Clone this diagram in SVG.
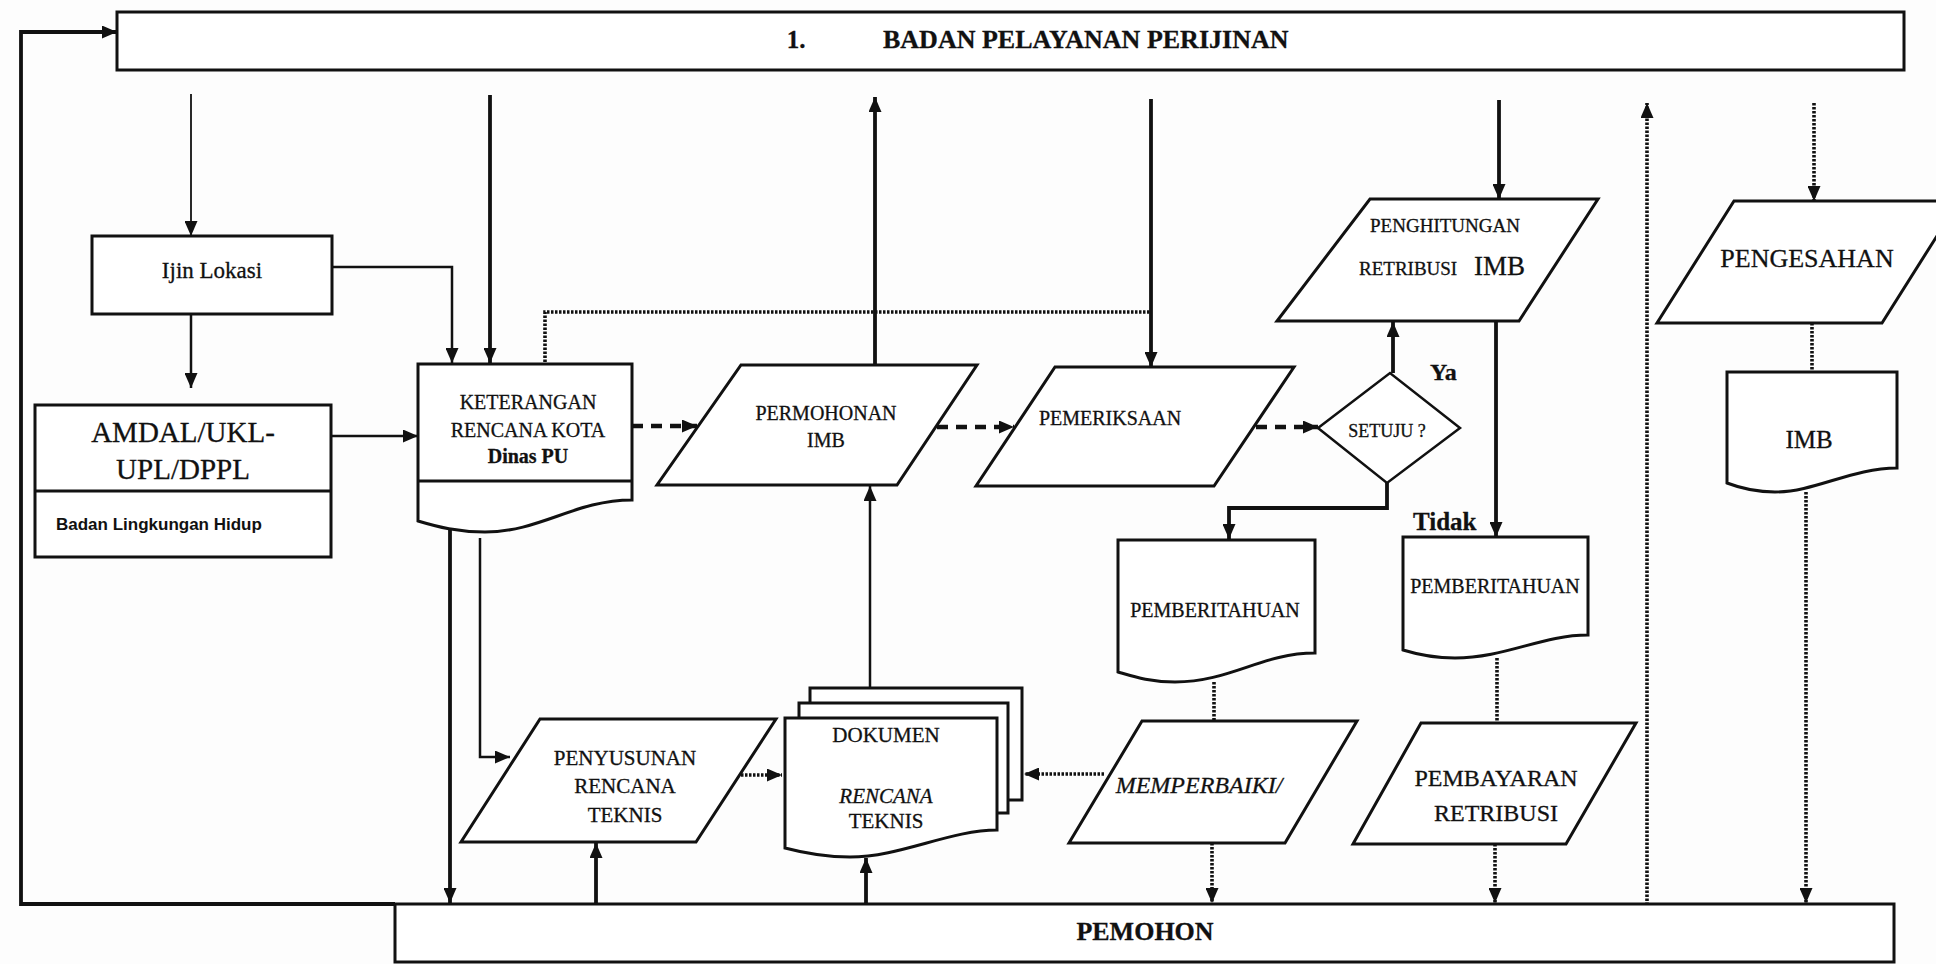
<svg xmlns="http://www.w3.org/2000/svg" width="1936" height="964" viewBox="0 0 1936 964">
<style>
.bg{fill:#fdfdfd}
.box{fill:#fff;stroke:#111;stroke-width:3}
.t{font-family:"Liberation Serif","Times New Roman",serif;fill:#111;text-anchor:middle;stroke:#111;stroke-width:0.3}
.b{font-weight:bold}
.i{font-style:italic}
.ln{fill:none;stroke:#111;stroke-width:2.5}
.th{fill:none;stroke:#111;stroke-width:3.8}
.thin{fill:none;stroke:#111;stroke-width:1.8}
.dot{fill:none;stroke:#111;stroke-width:3.6;stroke-dasharray:2.5 1.5}
.dash{fill:none;stroke:#111;stroke-width:4.5;stroke-dasharray:11 8}
</style>
<defs>
<marker id="ah" viewBox="0 0 15 13" refX="15" refY="6.5" markerWidth="15" markerHeight="13" markerUnits="userSpaceOnUse" orient="auto">
<path d="M0,0 L15,6.5 L0,13 z" fill="#111"/>
</marker>
</defs>
<rect class="bg" x="0" y="0" width="1936" height="964"/>

<g id="connectors">
<path class="th" d="M395,904 H21 V32 H117" marker-end="url(#ah)"/>
<path class="thin" d="M191,94 V236" marker-end="url(#ah)"/>
<path class="ln" d="M191,314 V388" marker-end="url(#ah)"/>
<path class="ln" d="M332,267 H452 V363" marker-end="url(#ah)"/>
<path class="th" d="M490,95 V363" marker-end="url(#ah)"/>
<path class="dot" d="M545,362 V312 H1151"/>
<path class="ln" d="M331,436 H418" marker-end="url(#ah)"/>
<path class="th" d="M450,526 V903" marker-end="url(#ah)"/>
<path class="ln" d="M480,538 V757 H510" marker-end="url(#ah)"/>
<path class="dash" d="M632,426 H697" marker-end="url(#ah)"/>
<path class="dash" d="M937,427 H1014" marker-end="url(#ah)"/>
<path class="dash" d="M1256,427 H1318" marker-end="url(#ah)"/>
<path class="th" d="M875,365 V97" marker-end="url(#ah)"/>
<path class="ln" d="M870,688 V486" marker-end="url(#ah)"/>
<path class="th" d="M1151,99 V367" marker-end="url(#ah)"/>
<path class="th" d="M1393,373 V322" marker-end="url(#ah)"/>
<path class="th" d="M1387,483 V508 H1229 V539" marker-end="url(#ah)"/>
<path class="th" d="M1499,100 V199" marker-end="url(#ah)"/>
<path class="th" d="M1496,321 V537" marker-end="url(#ah)"/>
<path class="dot" d="M1214,682 V721"/>
<path class="dot" d="M1497,658 V723"/>
<path class="dot" d="M1104,774 H1024" marker-end="url(#ah)"/>
<path class="dot" d="M1212,843 V903" marker-end="url(#ah)"/>
<path class="dot" d="M1495,844 V903" marker-end="url(#ah)"/>
<path class="dot" d="M1647,905 V103" marker-end="url(#ah)"/>
<path class="dot" d="M1814,103 V201" marker-end="url(#ah)"/>
<path class="dot" d="M1812,323 V372"/>
<path class="dot" d="M1806,492 V903" marker-end="url(#ah)"/>
<path class="th" d="M596,904 V843" marker-end="url(#ah)"/>
<path class="dot" d="M741,775 H782" marker-end="url(#ah)"/>
<path class="th" d="M866,904 V858" marker-end="url(#ah)"/>
</g>

<g id="badan-pelayanan">
<rect class="box" x="117" y="12" width="1787" height="58"/>
<text class="t b" x="796" y="48" font-size="25">1.</text>
<text class="t b" x="883" y="48" font-size="26" style="text-anchor:start">BADAN PELAYANAN PERIJINAN</text>
</g>

<g id="ijin-lokasi">
<rect class="box" x="92" y="236" width="240" height="78"/>
<text class="t" x="212" y="278" font-size="23">Ijin Lokasi</text>
</g>

<g id="amdal">
<rect class="box" x="35" y="405" width="296" height="152"/>
<line class="ln" x1="35" y1="491" x2="331" y2="491" style="stroke-width:3"/>
<text class="t" x="183" y="442" font-size="29">AMDAL/UKL-</text>
<text class="t" x="183" y="479" font-size="29">UPL/DPPL</text>
<text x="56" y="530" font-size="17" font-weight="bold" font-family="Liberation Sans, Arial, sans-serif" fill="#111">Badan Lingkungan Hidup</text>
</g>

<g id="keterangan-rencana-kota">
<path class="box" d="M418,364 H632 V500 C575,500 540,532 485,532 C458,532 438,527 418,521 Z"/>
<line class="ln" x1="418" y1="481" x2="632" y2="481" style="stroke-width:3"/>
<text class="t" x="528" y="409" font-size="20">KETERANGAN</text>
<text class="t" x="528" y="437" font-size="20">RENCANA KOTA</text>
<text class="t b" x="528" y="463" font-size="20">Dinas PU</text>
</g>

<g id="permohonan-imb">
<polygon class="box" points="741,365 977,365 897,485 657,485"/>
<text class="t" x="826" y="420" font-size="20">PERMOHONAN</text>
<text class="t" x="826" y="447" font-size="20">IMB</text>
</g>

<g id="pemeriksaan">
<polygon class="box" points="1055,367 1294,367 1214,486 976,486"/>
<text class="t" x="1110" y="425" font-size="20">PEMERIKSAAN</text>
</g>

<g id="setuju">
<polygon class="box" points="1318,428 1390,373 1460,428 1387,483" style="stroke-width:2.5"/>
<text class="t" x="1387" y="437" font-size="18">SETUJU ?</text>
<text class="t b" x="1430" y="380" font-size="24" style="text-anchor:start">Ya</text>
<text class="t b" x="1413" y="530" font-size="25" style="text-anchor:start">Tidak</text>
</g>

<g id="penghitungan-retribusi">
<polygon class="box" points="1370,199 1598,199 1519,321 1277,321"/>
<text class="t" x="1445" y="232" font-size="19">PENGHITUNGAN</text>
<text class="t" y="275" style="text-anchor:start"><tspan x="1359" font-size="19">RETRIBUSI</tspan><tspan x="1474" font-size="27">IMB</tspan></text>
</g>

<g id="pemberitahuan-1">
<path class="box" d="M1118,540 H1315 V653 C1262,653 1230,682 1175,682 C1150,682 1135,677 1118,672 Z"/>
<text class="t" x="1215" y="617" font-size="20">PEMBERITAHUAN</text>
</g>

<g id="pemberitahuan-2">
<path class="box" d="M1403,537 H1588 V635 C1542,635 1505,658 1455,658 C1432,658 1416,654 1403,650 Z"/>
<text class="t" x="1495" y="593" font-size="20">PEMBERITAHUAN</text>
</g>

<g id="memperbaiki">
<polygon class="box" points="1142,721 1357,721 1285,843 1069,843"/>
<text class="t i" x="1199" y="793" font-size="24">MEMPERBAIKI/</text>
</g>

<g id="pembayaran-retribusi">
<polygon class="box" points="1421,723 1636,723 1566,844 1353,844"/>
<text class="t" x="1496" y="786" font-size="24">PEMBAYARAN</text>
<text class="t" x="1496" y="821" font-size="24">RETRIBUSI</text>
</g>

<g id="pengesahan">
<polygon class="box" points="1734,201 1959,201 1882,323 1657,323"/>
<text class="t" x="1807" y="267" font-size="26">PENGESAHAN</text>
</g>

<g id="imb">
<path class="box" d="M1727,372 H1897 V468 C1852,468 1815,492 1775,492 C1755,492 1740,488 1727,483 Z"/>
<text class="t" x="1809" y="448" font-size="25">IMB</text>
</g>

<g id="penyusunan-rencana-teknis">
<polygon class="box" points="540,719 776,719 696,842 461,842"/>
<text class="t" x="625" y="765" font-size="21">PENYUSUNAN</text>
<text class="t" x="625" y="793" font-size="21">RENCANA</text>
<text class="t" x="625" y="822" font-size="21">TEKNIS</text>
</g>

<g id="dokumen-rencana-teknis">
<rect class="box" x="810" y="688" width="212" height="112"/>
<rect class="box" x="799" y="703" width="209" height="110"/>
<path class="box" d="M785,718 H997 V830 C950,830 900,857 850,857 C820,857 800,852 785,848 Z"/>
<text class="t" x="886" y="742" font-size="21">DOKUMEN</text>
<text class="t i" x="886" y="803" font-size="21">RENCANA</text>
<text class="t" x="886" y="828" font-size="21">TEKNIS</text>
</g>

<g id="pemohon">
<rect class="box" x="395" y="904" width="1499" height="58"/>
<text class="t b" x="1145" y="940" font-size="26">PEMOHON</text>
</g>
</svg>
